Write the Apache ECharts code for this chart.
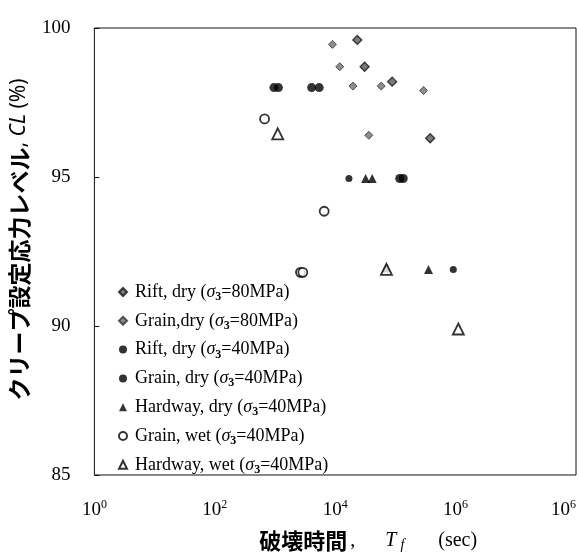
<!DOCTYPE html>
<html>
<head>
<meta charset="utf-8">
<script src="https://cdn.jsdelivr.net/npm/echarts@6/dist/echarts.min.js"></script>
<style>
  html, body { margin: 0; padding: 0; background: #fff; }
  #chart { width: 579px; height: 557px; }
</style>
</head>
<body>
<div id="chart"></div>
<script>
// 破壊時間 T_f (sec), クリープ設定応力レベル CL (%)
const riftDry80 = [[23300, 99.6], [30800, 98.7], [88300, 98.2], [378000, 96.3]];
const grainDry80 = [[9000, 99.45], [11900, 98.7], [19700, 98.05], [58100, 98.05], [293000, 97.9], [36200, 96.4]];
const riftDry40 = [[960, 98.0], [1140, 98.0], [4060, 98.0], [5420, 98.0], [118000, 94.95], [135000, 94.95]];
const grainDry40 = [[16900, 94.95], [916000, 91.9]];
const hardwayDry40 = [[32000, 94.95], [41200, 94.95], [71000, 91.95], [355000, 91.9]];
const grainWet40 = [[671, 96.95], [6560, 93.85], [2650, 91.8], [2900, 91.8]];
const hardwayWet40 = [[1110, 96.45], [71000, 91.9], [1110000, 89.9]];

const seriesNames = [
  'Rift, dry (σ3=80MPa)',
  'Grain,dry (σ3=80MPa)',
  'Rift, dry (σ3=40MPa)',
  'Grain, dry (σ3=40MPa)',
  'Hardway, dry (σ3=40MPa)',
  'Grain, wet (σ3=40MPa)',
  'Hardway, wet (σ3=40MPa)'
];
const xTicks = [1, 100, 10000, 1000000, 100000000];
const xTickLabels = ['0', '2', '4', '6', '6']; // 10^n, 最後のラベルは原図のまま
const yTicks = [85, 90, 95, 100];

const serif = '"Liberation Serif", "DejaVu Serif", serif';
const jpFont = '"Noto Sans CJK JP", sans-serif';

const chart = echarts.init(document.getElementById('chart'));

const mk = (name, data, symbol, size, style) => ({
  name,
  type: 'scatter',
  data,
  symbol,
  symbolSize: size,
  itemStyle: style,
  z: 3
});

const option = {
  animation: false,
  backgroundColor: '#fff',
  grid: {
    left: 94,
    right: 2,
    top: 28,
    bottom: 77,
    show: true,
    borderColor: '#111',
    borderWidth: 1,
    backgroundColor: 'transparent'
  },
  legend: {
    orient: 'vertical',
    left: 113,
    top: 276,
    itemGap: 6.8,
    itemWidth: 8,
    itemHeight: 8,
    data: seriesNames,
    textStyle: {
      fontFamily: serif,
      fontSize: 18,
      color: '#000',
      lineHeight: 22,
      padding: [0, 0, 0, 3],
      rich: {
        it: { fontFamily: serif, fontStyle: 'italic', fontSize: 18, color: '#000', lineHeight: 22 },
        sub: { fontFamily: serif, fontWeight: 'bold', fontSize: 12, color: '#000', lineHeight: 12, verticalAlign: 'bottom' }
      }
    },
    formatter: (name) => name.replace('σ3', '{it|σ}{sub|3}')
  },
  xAxis: {
    type: 'log',
    logBase: 10,
    min: xTicks[0],
    max: xTicks[xTicks.length - 1],
    name: '{jp|破壊時間}{c|,}{it|T}{sub|f}{s|(sec)}',
    nameLocation: 'middle',
    nameGap: 55,
    nameTextStyle: {
      fontFamily: serif,
      fontSize: 20,
      color: '#000',
      padding: [0, 0, 0, 66],
      rich: {
        jp: { fontFamily: jpFont, fontWeight: 'bold', fontSize: 22, color: '#000' },
        c: { fontFamily: serif, fontSize: 20, color: '#000', padding: [0, 0, 0, 3] },
        it: { fontFamily: serif, fontStyle: 'italic', fontSize: 20, color: '#000', padding: [0, 0, 0, 30] },
        sub: { fontFamily: serif, fontStyle: 'italic', fontSize: 14, color: '#000', verticalAlign: 'bottom', lineHeight: 14, padding: [0, 0, 0, 4] },
        s: { fontFamily: serif, fontSize: 20, color: '#000', padding: [0, 0, 0, 34] }
      }
    },
    axisLine: { show: false },
    axisTick: { show: false },
    splitLine: { show: false },
    axisLabel: {
      margin: 24,
      customValues: xTicks,
      alignMaxLabel: 'right',
      formatter: (v) => {
        const i = xTicks.indexOf(v);
        return '{b|10}{sup|' + xTickLabels[i < 0 ? Math.round(Math.log10(v) / 2) : i] + '}';
      },
      rich: {
        b: { fontFamily: serif, fontSize: 19, color: '#000', lineHeight: 22 },
        sup: { fontFamily: serif, fontSize: 12, color: '#000', lineHeight: 12, verticalAlign: 'top' }
      }
    }
  },
  yAxis: {
    type: 'value',
    min: yTicks[0],
    max: yTicks[yTicks.length - 1],
    interval: 5,
    name: '{jp|クリープ設定応力レベル}{n|, }{it|CL}{n| (%)}',
    nameLocation: 'middle',
    nameGap: 58,
    nameTextStyle: {
      fontFamily: jpFont,
      fontSize: 21,
      color: '#000',
      padding: [0, 0, 0, 24],
      rich: {
        jp: { fontFamily: jpFont, fontWeight: 'bold', fontSize: 23, color: '#000' },
        n: { fontFamily: '"Noto Sans", sans-serif', fontSize: 21, color: '#000' },
        it: { fontFamily: '"Noto Sans", sans-serif', fontStyle: 'italic', fontSize: 21, color: '#000' }
      }
    },
    axisLine: { show: false },
    axisTick: { show: true, inside: true, length: 5, lineStyle: { color: '#111' } },
    splitLine: { show: false },
    axisLabel: {
      margin: 24,
      fontFamily: serif,
      fontSize: 19,
      color: '#000'
    }
  },
  series: [
    mk(seriesNames[0], riftDry80, 'diamond', 9, { color: '#5a5a5a', borderColor: '#111', borderWidth: 1.3 }),
    mk(seriesNames[1], grainDry80, 'diamond', 8, { color: '#707070', borderColor: '#333', borderWidth: 1 }),
    mk(seriesNames[2], riftDry40, 'circle', 9, { color: '#000' }),
    mk(seriesNames[3], grainDry40, 'circle', 7, { color: '#000' }),
    mk(seriesNames[4], hardwayDry40, 'triangle', 9, { color: '#000' }),
    mk(seriesNames[5], grainWet40, 'circle', 9, { color: '#fff', borderColor: '#000', borderWidth: 1.8 }),
    mk(seriesNames[6], hardwayWet40, 'triangle', 11, { color: '#fff', borderColor: '#000', borderWidth: 1.8 })
  ]
};

chart.setOption(option);
</script>
</body>
</html>
